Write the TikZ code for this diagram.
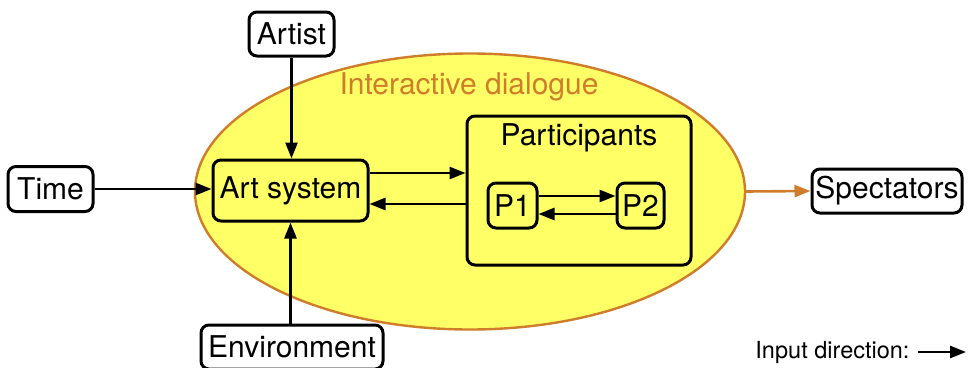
\documentclass[tikz,border=0pt]{standalone}
\usepackage{fontspec}
\setmainfont{TeX Gyre Heros}
\usetikzlibrary{arrows.meta,shapes.geometric,calc}
\definecolor{dlgfill}{RGB}{255,255,102}
\definecolor{dlgedge}{RGB}{207,125,42}
\tikzset{
  box/.style={draw=black, line width=3pt, rounded corners=8pt, inner sep=0pt,
    font=\fontsize{30pt}{34pt}\selectfont, align=center},
  outbox/.style={box, fill=white},
  inbox/.style={box, fill=dlgfill},
  flow/.style={line width=2.6pt, -{Triangle[length=16pt,width=12pt]}},
  oflow/.style={flow, draw=dlgedge, -{Triangle[length=16pt,width=12pt,fill=dlgedge]}},
}
\begin{document}
\begin{tikzpicture}[x=1pt,y=-1pt]
\useasboundingbox (0,0) rectangle (968,367);

% the dialogue region
\node[ellipse, draw=dlgedge, fill=dlgfill, line width=2.4pt, inner sep=0pt,
  minimum width=550pt, minimum height=276pt] (dlg) at (470,191.5) {};
\node[text=dlgedge, font=\fontsize{30pt}{34pt}\selectfont] (dlglabel) at (469,87) {Interactive dialogue};

% boxes inside the dialogue
\node[inbox, minimum width=155pt, minimum height=61pt] (art) at (290.5,190.5) {Art system};
\node[inbox, minimum width=224pt, minimum height=149pt] (part) at (579,190.5) {};
\node[font=\fontsize{30pt}{34pt}\selectfont] (partlabel) at (579,138) {Participants};
\node[inbox, minimum width=49pt, minimum height=45pt] (p1) at (512.5,205.5) {P1};
\node[inbox, minimum width=47pt, minimum height=45pt] (p2) at (640.5,205.5) {P2};

% inputs and output
\node[outbox, minimum width=85pt, minimum height=44pt] (artist) at (291.5,34) {Artist};
\node[outbox, minimum width=85pt, minimum height=45pt] (time) at (50.5,189) {Time};
\node[outbox, minimum width=182pt, minimum height=44pt] (env) at (292,347) {Environment};
\node[outbox, minimum width=150pt, minimum height=44pt] (spect) at (887,191) {Spectators};

% start points of the paired connectors
\coordinate (artout) at ($(art.east)+(0,-17.5)$);
\coordinate (partout) at ($(part.west)+(0,13.5)$);
\coordinate (p1out) at ($(p1.east)+(0,-9.5)$);
\coordinate (p2out) at ($(p2.west)+(0,8.5)$);

% connectors
\draw[flow] (artist.south) -- (art.north -| artist.south);
\draw[flow] (env.north -| art.south) -- (art.south);
\draw[flow] (time.east) -- (time.east -| art.west);
\draw[flow] (artout) -- (artout -| part.west);
\draw[flow] (partout) -- (partout -| art.east);
\draw[flow] (p1out) -- (p1out -| p2.west);
\draw[flow] (p2out) -- (p2out -| p1.east);
\draw[oflow] (dlg.east) -- (spect.west);

% legend
\node[anchor=east, font=\fontsize{23.5pt}{27pt}\selectfont] (legend) at (913,352) {Input direction:};
\coordinate (legendstart) at (918,352);
\coordinate (legendend) at (966,352);
\draw[flow] (legendstart) -- (legendend);
\end{tikzpicture}
\end{document}
